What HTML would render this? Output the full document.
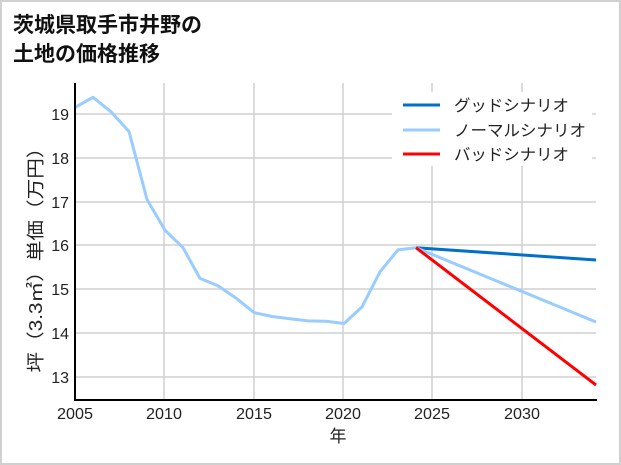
<!DOCTYPE html>
<html><head><meta charset="utf-8"><style>
html,body{margin:0;padding:0;background:#fff}
svg{display:block}
text{font-family:"Liberation Sans","Noto Sans CJK JP",sans-serif}
</style></head><body>
<svg width="621" height="465" viewBox="0 0 621 465" xmlns="http://www.w3.org/2000/svg">
<rect x="1" y="1" width="619" height="463" fill="#fff" stroke="#d0d0d0" stroke-width="2"/>
<text x="13" y="32" font-size="21" font-weight="bold" fill="#111">茨城県取手市井野の</text>
<text x="13" y="61" font-size="21" font-weight="bold" fill="#111">土地の価格推移</text>
<g stroke="#d0d0d0" stroke-width="1.5">
<line x1="164" y1="83" x2="164" y2="400"/><line x1="254" y1="83" x2="254" y2="400"/>
<line x1="343" y1="83" x2="343" y2="400"/><line x1="432" y1="83" x2="432" y2="400"/>
<line x1="522" y1="83" x2="522" y2="400"/>
<line x1="75" y1="114" x2="596" y2="114"/><line x1="75" y1="158" x2="596" y2="158"/>
<line x1="75" y1="202" x2="596" y2="202"/><line x1="75" y1="245" x2="596" y2="245"/>
<line x1="75" y1="289" x2="596" y2="289"/><line x1="75" y1="333" x2="596" y2="333"/>
<line x1="75" y1="377" x2="596" y2="377"/>
</g>
<rect x="392" y="92" width="200" height="74" fill="#fff"/>
<polyline fill="none" stroke="#99ccff" stroke-width="3" stroke-linejoin="round" points="75,107.4 93,97.3 111,111.8 129,131.5 147,199.5 165,230.2 183,247.7 200,278.4 218,285.8 236,298.1 254,312.6 272,316.5 290,318.7 308,320.9 326,321.3 344,323.5 362,306.9 380,271.8 398,249.9 416,247.7"/>
<line x1="416" y1="247.7" x2="596" y2="260" stroke="#0070c9" stroke-width="3"/>
<line x1="416" y1="247.7" x2="596" y2="322" stroke="#99ccff" stroke-width="3"/>
<line x1="416" y1="247.7" x2="596" y2="385" stroke="#ff0000" stroke-width="3"/>
<line x1="75" y1="83" x2="75" y2="401" stroke="#000" stroke-width="2"/>
<line x1="74" y1="400" x2="597" y2="400" stroke="#000" stroke-width="2"/>
<g font-size="16" fill="#222" text-anchor="end">
<text x="69" y="120">19</text><text x="69" y="164">18</text><text x="69" y="208">17</text>
<text x="69" y="251">16</text><text x="69" y="295">15</text><text x="69" y="339">14</text>
<text x="69" y="383">13</text>
</g>
<g font-size="16" fill="#222" text-anchor="middle">
<text x="75" y="419" textLength="36" lengthAdjust="spacingAndGlyphs">2005</text><text x="164" y="419" textLength="36" lengthAdjust="spacingAndGlyphs">2010</text><text x="254" y="419" textLength="36" lengthAdjust="spacingAndGlyphs">2015</text>
<text x="343" y="419" textLength="36" lengthAdjust="spacingAndGlyphs">2020</text><text x="432" y="419" textLength="36" lengthAdjust="spacingAndGlyphs">2025</text><text x="522" y="419" textLength="36" lengthAdjust="spacingAndGlyphs">2030</text>
<text x="338" y="442" font-size="17">年</text>
</g>
<text transform="translate(42,255) rotate(-90)" font-size="18" fill="#222" text-anchor="middle" textLength="235" lengthAdjust="spacingAndGlyphs">坪（3.3㎡）単価（万円）</text>
<line x1="403" y1="105" x2="440" y2="105" stroke="#0070c9" stroke-width="3"/>
<line x1="403" y1="130" x2="440" y2="130" stroke="#99ccff" stroke-width="3"/>
<line x1="403" y1="154" x2="440" y2="154" stroke="#ff0000" stroke-width="3"/>
<g font-size="16" fill="#222">
<text x="454" y="111" textLength="115" lengthAdjust="spacingAndGlyphs">グッドシナリオ</text>
<text x="454" y="136" textLength="132" lengthAdjust="spacingAndGlyphs">ノーマルシナリオ</text>
<text x="454" y="160" textLength="115" lengthAdjust="spacingAndGlyphs">バッドシナリオ</text>
</g>
</svg>
</body></html>
